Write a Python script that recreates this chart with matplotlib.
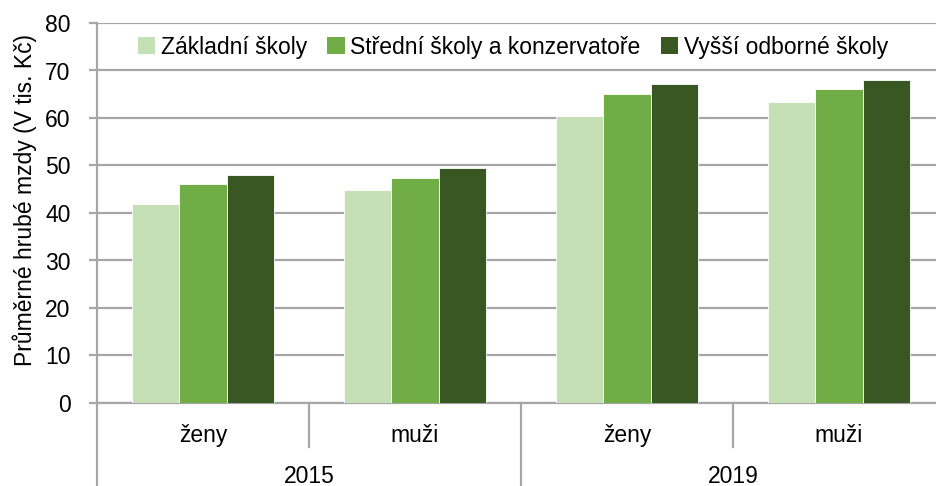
import matplotlib.pyplot as plt
import matplotlib.transforms as mtransforms
from matplotlib.patches import Patch

plt.rcParams['font.family'] = ['Liberation Sans', 'DejaVu Sans']

# data
years = ["2015", "2019"]
sexes = ["ženy", "muži", "ženy", "muži"]
series_names = ["Základní školy", "Střední školy a konzervatoře", "Vyšší odborné školy"]
zakladni = [41.9, 44.9, 60.5, 63.4]
stredni = [46.2, 47.4, 65.1, 66.0]
vyssi = [47.9, 49.5, 67.2, 68.0]
colors = ["#C5E0B4", "#70AD47", "#385723"]
FS = 16.5

W, H = 937, 486
fig = plt.figure(figsize=(W / 100, H / 100), dpi=100)
ax = fig.add_axes([97 / W, 1 - 403 / H, 848 / W, 380 / H])

bw = 1 / 4.5
all_series = [zakladni, stredni, vyssi]
for j, vals in enumerate(all_series):
    xs = [i + 0.5 + (j - 1) * bw for i in range(len(vals))]
    ax.bar(xs, vals, width=bw, color=colors[j], edgecolor="white", linewidth=0.6, zorder=3)

ax.set_xlim(0, 4)
ax.set_ylim(0, 80)
ax.set_yticks(range(0, 81, 10))
ax.grid(axis="y", color="#A6A6A6", linewidth=1.6, zorder=0)
ax.set_xticks([])
for s in ["top", "right"]:
    ax.spines[s].set_visible(False)
ax.spines["left"].set_color("#A6A6A6")
ax.spines["left"].set_linewidth(1.6)
ax.spines["bottom"].set_color("#A6A6A6")
ax.spines["bottom"].set_linewidth(1.6)
ax.tick_params(axis="y", length=6, width=1.6, color="#A6A6A6", pad=13, labelsize=FS)

ax.set_ylabel("Průměrné hrubé mzdy (V tis. Kč)", fontsize=FS)
ax.yaxis.set_label_coords(-0.071, 0.534)

# multi-level category axis
trans = mtransforms.blended_transform_factory(ax.transData, fig.transFigure)
y0 = 1 - 403 / H
for i, lab in enumerate(sexes):
    ax.text(i + 0.5, 1 - 435 / H, lab, transform=trans, ha="center", va="center", fontsize=FS)
for k, yr in enumerate(years):
    ax.text(2 * k + 1, 1 - 476 / H, yr, transform=trans, ha="center", va="center", fontsize=FS)
for xv in [1, 3]:
    ax.plot([xv, xv], [y0, 1 - 447 / H], transform=trans, color="#A6A6A6", lw=1.6, clip_on=False)
for xv in [0, 2, 4]:
    ax.plot([xv, xv], [y0, 0], transform=trans, color="#A6A6A6", lw=1.6, clip_on=False)

handles = [Patch(facecolor=c, edgecolor="none") for c in colors]
ax.legend(handles, series_names, loc="center", bbox_to_anchor=(513 / W, 1 - 47 / H),
          bbox_transform=fig.transFigure, ncol=3, frameon=False, fontsize=FS,
          handlelength=0.75, handleheight=0.75, handletextpad=0.25, columnspacing=0.9)

fig.savefig("out.png", dpi=100)
